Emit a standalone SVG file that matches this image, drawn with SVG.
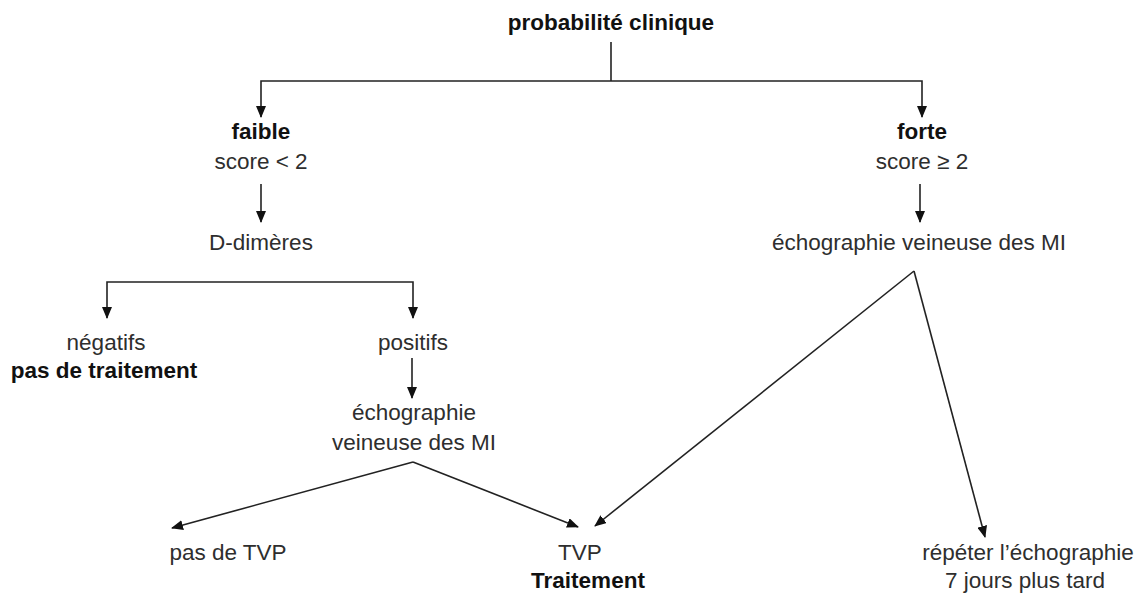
<svg xmlns="http://www.w3.org/2000/svg" width="1141" height="595" viewBox="0 0 1141 595">
  <defs>
    <marker id="arrow" viewBox="0 0 12 10" refX="11" refY="5" markerWidth="12" markerHeight="10" markerUnits="userSpaceOnUse" orient="auto">
      <path d="M0,0 L12,5 L0,10 Z" fill="#111"/>
    </marker>
  </defs>
  <style>
    text { font-family: "Liberation Sans", Arial, sans-serif; font-size: 22.5px; fill: #2e2e2e; text-anchor: middle; }
    .b { font-weight: bold; fill: #111; }
    .c { fill: none; stroke: #222; stroke-width: 1.6; }
    .a { marker-end: url(#arrow); }
  </style>
  <rect width="1141" height="595" fill="#fff"/>

  <g id="connectors">
    <!-- clinical probability split -->
    <path class="c" d="M611,42 V81"/>
    <path class="c a" d="M611,81 H261 V117"/>
    <path class="c a" d="M611,81 H922 V117"/>
    <!-- low branch -->
    <path class="c a" d="M261,184 V222"/>
    <path class="c a" d="M260,282 H107 V318"/>
    <path class="c a" d="M260,282 H413 V318"/>
    <path class="c a" d="M412,358 V398"/>
    <path class="c a" d="M413,462 L172,528"/>
    <path class="c a" d="M413,462 L578,527"/>
    <!-- high branch -->
    <path class="c a" d="M920,184 V222"/>
    <path class="c a" d="M914,271 L595,526"/>
    <path class="c a" d="M914,271 L985,537"/>
  </g>

  <g id="n-probabilite"><text class="b" x="611" y="30">probabilité clinique</text></g>
  <g id="n-faible">
    <text class="b" x="261" y="139">faible</text>
    <text x="261" y="169">score &lt; 2</text>
  </g>
  <g id="n-forte">
    <text class="b" x="922" y="139">forte</text>
    <text x="922" y="169">score ≥ 2</text>
  </g>
  <g id="n-ddimeres"><text x="261" y="250">D-dimères</text></g>
  <g id="n-echo-forte"><text x="919" y="250">échographie veineuse des MI</text></g>
  <g id="n-negatifs">
    <text x="106" y="350">négatifs</text>
    <text class="b" x="104" y="378">pas de traitement</text>
  </g>
  <g id="n-positifs"><text x="413" y="350">positifs</text></g>
  <g id="n-echo-faible">
    <text x="414" y="420">échographie</text>
    <text x="414" y="450">veineuse des MI</text>
  </g>
  <g id="n-pas-tvp"><text x="228" y="560">pas de TVP</text></g>
  <g id="n-tvp">
    <text x="580" y="560">TVP</text>
    <text class="b" x="588" y="588">Traitement</text>
  </g>
  <g id="n-repeter">
    <text x="1028" y="560">répéter l’échographie</text>
    <text x="1025" y="588">7 jours plus tard</text>
  </g>
</svg>
